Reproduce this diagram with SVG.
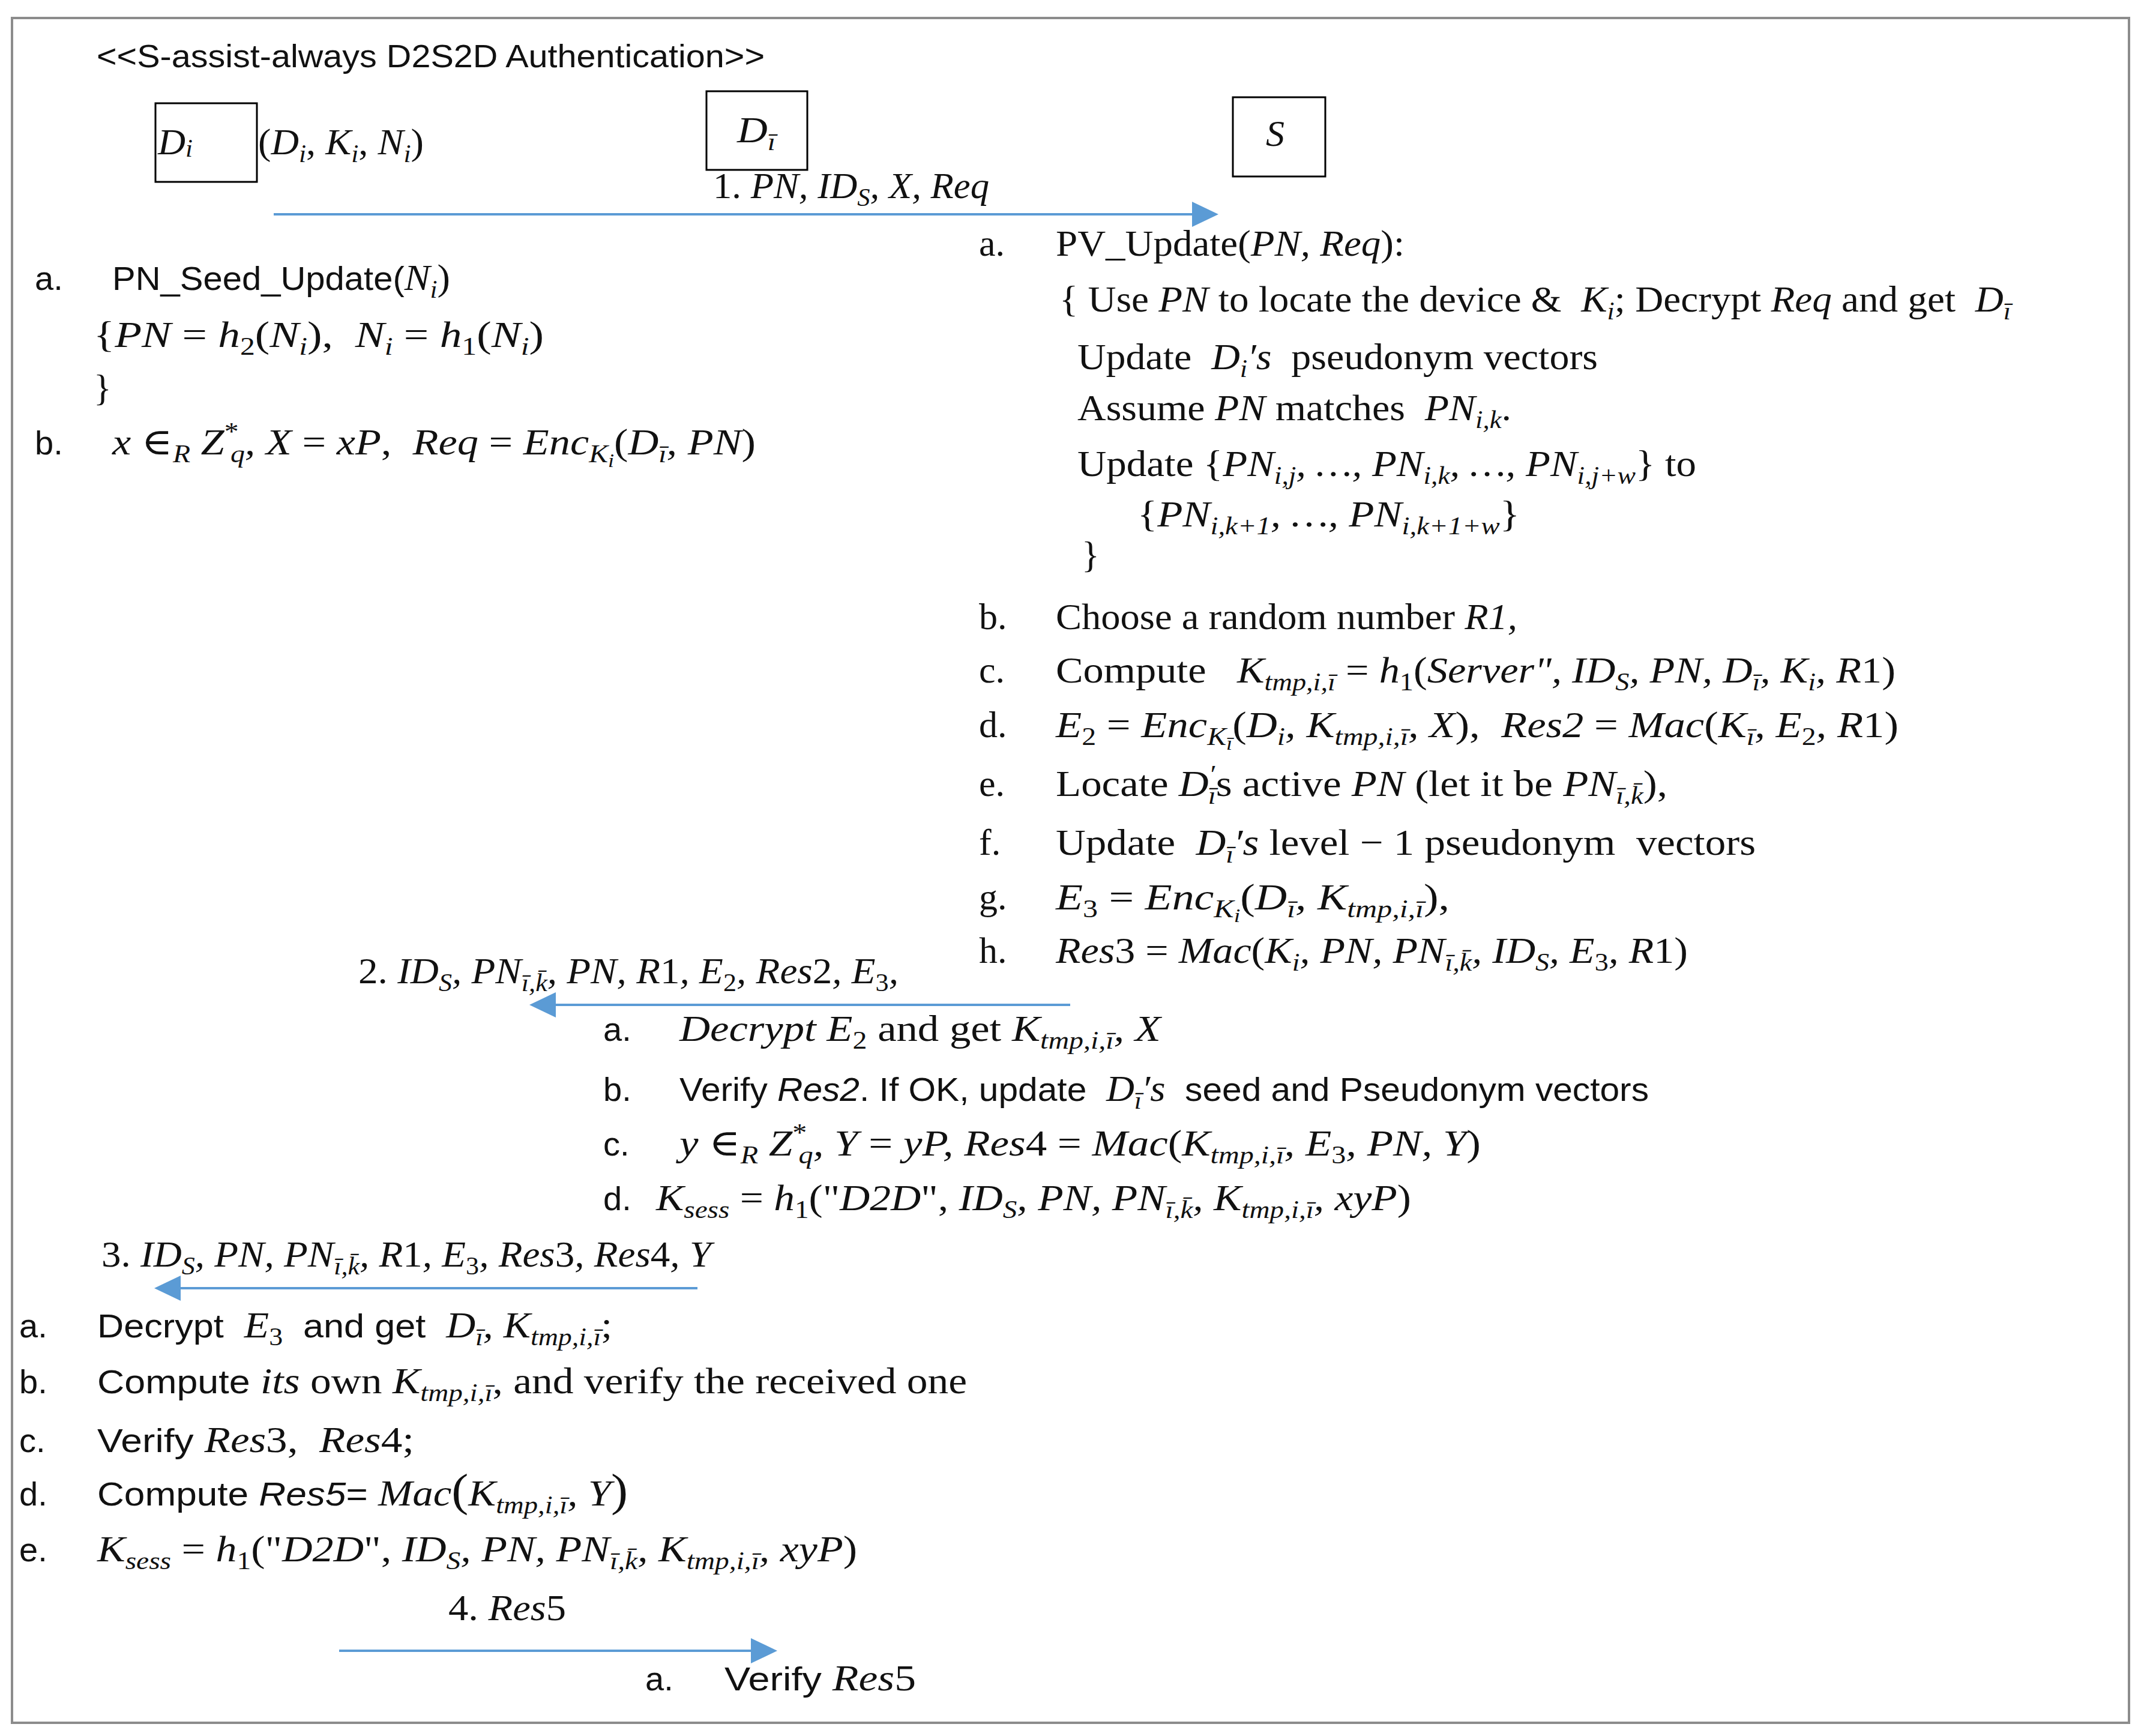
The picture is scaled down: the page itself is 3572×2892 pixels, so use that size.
<svg xmlns="http://www.w3.org/2000/svg" width="3572" height="2892" viewBox="0 0 3572 2892">
<style>
.t{font-family:"Liberation Serif","DejaVu Serif",serif;font-size:62px;fill:#111}
.c{font-family:"Liberation Sans","DejaVu Sans",sans-serif;font-size:56px;fill:#111}
.i{font-style:italic}
.n{font-style:normal}
.s{font-size:42px}
.ss{font-size:32px}
.M{font-family:"Liberation Serif","DejaVu Serif",serif;font-size:62px}
.Ms{font-family:"Liberation Serif","DejaVu Serif",serif;font-size:42px}
.box{fill:#fff;stroke:#000;stroke-width:3}
.frame{fill:none;stroke:#8c8c8c;stroke-width:4}
.arr{fill:none;stroke:#5B9BD5;stroke-width:4;marker-end:url(#ah)}
</style>
<defs>
<marker id="ah" markerUnits="userSpaceOnUse" markerWidth="46" markerHeight="46" refX="32" refY="23" orient="auto"><path d="M0,2 L44,23 L0,44 Z" fill="#5B9BD5"/></marker>
</defs>
<rect width="3572" height="2892" fill="#fff"/>
<rect class="frame" x="20" y="30" width="3527" height="2840"/>
<text class="c" x="161" y="112" style="font-size:54px" textLength="1113" lengthAdjust="spacingAndGlyphs">&lt;&lt;S-assist-always D2S2D Authentication&gt;&gt;</text>

<g id="node-Di"><rect class="box" x="259" y="172" width="169" height="131"/><text class="t i" x="263" y="257" textLength="58" lengthAdjust="spacingAndGlyphs">D<tspan class="s" dy="4">i</tspan></text></g>
<g id="node-Dibar"><rect class="box" x="1177" y="152" width="168" height="131"/><text class="t i" x="1228" y="237" textLength="64" lengthAdjust="spacingAndGlyphs">D<tspan class="s" dy="13">ī</tspan></text></g>
<g id="node-S"><rect class="box" x="2054" y="162" width="154" height="132"/><text class="t i" x="2109" y="243">S</text></g>

<g id="connectors">
<line class="arr" x1="456" y1="357" x2="2018" y2="357"/>
<line class="arr" x1="1783" y1="1674" x2="894" y2="1674"/>
<line class="arr" x1="1162" y1="2146" x2="269" y2="2146"/>
<line class="arr" x1="565" y1="2750" x2="1283" y2="2750"/>
</g>

<g id="labels">
<text class="t" x="430" y="257" textLength="276" lengthAdjust="spacingAndGlyphs">(<tspan class="i">D</tspan><tspan class="s i" dy="13">i</tspan><tspan dy="-13">, </tspan><tspan class="i">K</tspan><tspan class="s i" dy="13">i</tspan><tspan dy="-13">, </tspan><tspan class="i">N</tspan><tspan class="s i" dy="13">i</tspan><tspan dy="-13">)</tspan></text>
<text class="t i" x="1188" y="330" textLength="460" lengthAdjust="spacingAndGlyphs"><tspan class="n">1. </tspan>PN, ID<tspan class="s" dy="13">S</tspan><tspan dy="-13">, X, Req</tspan></text>

<text class="c" x="58" y="483">a.</text>
<text class="c" x="187" y="483" textLength="563" lengthAdjust="spacingAndGlyphs">PN_Seed_Update(<tspan class="M i">N</tspan><tspan class="Ms i" dy="13">i</tspan><tspan class="M" dy="-13">)</tspan></text>
<text class="t i" x="156" y="578" textLength="750" lengthAdjust="spacingAndGlyphs"><tspan class="n">{</tspan>PN <tspan class="n">= </tspan>h<tspan class="s n" dy="13">2</tspan><tspan class="n" dy="-13">(</tspan>N<tspan class="s" dy="13">i</tspan><tspan class="n" dy="-13">),&#160; </tspan>N<tspan class="s" dy="13">i</tspan><tspan class="n" dy="-13"> = </tspan>h<tspan class="s n" dy="13">1</tspan><tspan class="n" dy="-13">(</tspan>N<tspan class="s" dy="13">i</tspan><tspan class="n" dy="-13">)</tspan></text>
<text class="t" x="156" y="667">}</text>
<text class="c" x="58" y="757">b.</text>
<text class="t i" x="187" y="757" textLength="1072" lengthAdjust="spacingAndGlyphs">x <tspan class="n">∈</tspan><tspan class="s" dy="13">R</tspan><tspan dy="-13"> Z</tspan><tspan class="s n" dy="-24">*</tspan><tspan class="s" dx="-12" dy="37">q</tspan><tspan dy="-13">, X </tspan><tspan class="n">= </tspan>xP<tspan class="n">,&#160; </tspan>Req <tspan class="n">= </tspan>Enc<tspan class="s" dy="13">K</tspan><tspan class="ss" dy="8">i</tspan><tspan class="n" dy="-21">(</tspan>D<tspan class="s" dy="13">ī</tspan><tspan dy="-13">, PN</tspan><tspan class="n">)</tspan></text>

<text class="t" x="1631" y="426">a.</text>
<text class="t" x="1759" y="426" textLength="581" lengthAdjust="spacingAndGlyphs">PV_Update(<tspan class="i">PN, Req</tspan>):</text>
<text class="t" x="1765" y="519" textLength="1585" lengthAdjust="spacingAndGlyphs">{ Use <tspan class="i">PN</tspan> to locate the device &amp;&#160; <tspan class="i">K</tspan><tspan class="s i" dy="13">i</tspan><tspan dy="-13">; Decrypt </tspan><tspan class="i">Req</tspan> and get&#160; <tspan class="i">D</tspan><tspan class="s i" dy="13">ī</tspan></text>
<text class="t" x="1795" y="615" textLength="867" lengthAdjust="spacingAndGlyphs">Update&#160; <tspan class="i">D</tspan><tspan class="s i" dy="13">i</tspan><tspan class="i" dy="-13">′s</tspan>&#160; pseudonym vectors</text>
<text class="t" x="1795" y="700" textLength="723" lengthAdjust="spacingAndGlyphs">Assume <tspan class="i">PN</tspan> matches&#160; <tspan class="i">PN</tspan><tspan class="s i" dy="13">i,k</tspan><tspan dy="-13">.</tspan></text>
<text class="t i" x="1795" y="793" textLength="1031" lengthAdjust="spacingAndGlyphs"><tspan class="n">Update {</tspan>PN<tspan class="s" dy="13">i,j</tspan><tspan dy="-13">, …, PN</tspan><tspan class="s" dy="13">i,k</tspan><tspan dy="-13">, …, PN</tspan><tspan class="s" dy="13">i,j+w</tspan><tspan class="n" dy="-13">} to</tspan></text>
<text class="t i" x="1895" y="877" textLength="637" lengthAdjust="spacingAndGlyphs"><tspan class="n">{</tspan>PN<tspan class="s" dy="13">i,k+1</tspan><tspan dy="-13">, …, PN</tspan><tspan class="s" dy="13">i,k+1+w</tspan><tspan class="n" dy="-13">}</tspan></text>
<text class="t" x="1802" y="945">}</text>
<text class="t" x="1631" y="1048">b.</text>
<text class="t" x="1759" y="1048" textLength="769" lengthAdjust="spacingAndGlyphs">Choose a random number <tspan class="i">R1,</tspan></text>
<text class="t" x="1631" y="1137">c.</text>
<text class="t" x="1759" y="1137" textLength="1399" lengthAdjust="spacingAndGlyphs">Compute&#160;&#160; <tspan class="i">K</tspan><tspan class="s i" dy="13">tmp,i,ī</tspan><tspan dy="-13"> = </tspan><tspan class="i">h</tspan><tspan class="s" dy="13">1</tspan><tspan dy="-13">(</tspan><tspan class="i">Server", ID</tspan><tspan class="s i" dy="13">S</tspan><tspan class="i" dy="-13">, PN, D</tspan><tspan class="s i" dy="13">ī</tspan><tspan class="i" dy="-13">, K</tspan><tspan class="s i" dy="13">i</tspan><tspan class="i" dy="-13">, R</tspan>1)</text>
<text class="t" x="1631" y="1228">d.</text>
<text class="t i" x="1759" y="1228" textLength="1404" lengthAdjust="spacingAndGlyphs">E<tspan class="s n" dy="13">2</tspan><tspan class="n" dy="-13"> = </tspan>Enc<tspan class="s" dy="13">K</tspan><tspan class="ss" dy="8">ī</tspan><tspan class="n" dy="-21">(</tspan>D<tspan class="s" dy="13">i</tspan><tspan dy="-13">, K</tspan><tspan class="s" dy="13">tmp,i,ī</tspan><tspan dy="-13">, X</tspan><tspan class="n">),&#160; </tspan>Res2<tspan class="n"> = </tspan>Mac<tspan class="n">(</tspan>K<tspan class="s" dy="13">ī</tspan><tspan dy="-13">, E</tspan><tspan class="s n" dy="13">2</tspan><tspan dy="-13">, R</tspan><tspan class="n">1)</tspan></text>
<text class="t" x="1631" y="1326">e.</text>
<text class="t" x="1759" y="1326" textLength="1019" lengthAdjust="spacingAndGlyphs">Locate <tspan class="i">D</tspan><tspan class="s i" dy="-22">′</tspan><tspan class="s i" dx="-10" dy="35">ī</tspan><tspan dy="-13">s active </tspan><tspan class="i">PN</tspan> (let it be <tspan class="i">PN</tspan><tspan class="s i" dy="13">ī,k̄</tspan><tspan dy="-13">),</tspan></text>
<text class="t" x="1631" y="1424">f.</text>
<text class="t" x="1759" y="1424" textLength="1166" lengthAdjust="spacingAndGlyphs">Update&#160; <tspan class="i">D</tspan><tspan class="s i" dy="13">ī</tspan><tspan class="i" dy="-13">′s</tspan> level − 1 pseudonym&#160; vectors</text>
<text class="t" x="1631" y="1515">g.</text>
<text class="t i" x="1759" y="1515" textLength="656" lengthAdjust="spacingAndGlyphs">E<tspan class="s n" dy="13">3</tspan><tspan class="n" dy="-13"> = </tspan>Enc<tspan class="s" dy="13">K</tspan><tspan class="ss" dy="8">i</tspan><tspan class="n" dy="-21">(</tspan>D<tspan class="s" dy="13">ī</tspan><tspan dy="-13">, K</tspan><tspan class="s" dy="13">tmp,i,ī</tspan><tspan class="n" dy="-13">),</tspan></text>
<text class="t" x="1631" y="1604">h.</text>
<text class="t i" x="1759" y="1604" textLength="1053" lengthAdjust="spacingAndGlyphs">Res<tspan class="n">3 = </tspan>Mac<tspan class="n">(</tspan>K<tspan class="s" dy="13">i</tspan><tspan dy="-13">, PN, PN</tspan><tspan class="s" dy="13">ī,k̄</tspan><tspan dy="-13">, ID</tspan><tspan class="s" dy="13">S</tspan><tspan dy="-13">, E</tspan><tspan class="s n" dy="13">3</tspan><tspan dy="-13">, R</tspan><tspan class="n">1)</tspan></text>

<text class="t i" x="597" y="1638" textLength="900" lengthAdjust="spacingAndGlyphs"><tspan class="n">2. </tspan>ID<tspan class="s" dy="13">S</tspan><tspan dy="-13">, PN</tspan><tspan class="s" dy="13">ī,k̄</tspan><tspan dy="-13">, PN, R</tspan><tspan class="n">1</tspan>, E<tspan class="s n" dy="13">2</tspan><tspan dy="-13">, Res</tspan><tspan class="n">2</tspan>, E<tspan class="s n" dy="13">3</tspan><tspan dy="-13">,</tspan></text>

<text class="c" x="1005" y="1734">a.</text>
<text class="t i" x="1132" y="1734" textLength="802" lengthAdjust="spacingAndGlyphs">Decrypt E<tspan class="s n" dy="13">2</tspan><tspan class="n" dy="-13"> and get </tspan>K<tspan class="s" dy="13">tmp,i,ī</tspan><tspan dy="-13">, X</tspan></text>
<text class="c" x="1005" y="1834">b.</text>
<text class="c" x="1132" y="1834" textLength="1615" lengthAdjust="spacingAndGlyphs">Verify <tspan class="i">Res2</tspan>. If OK, update&#160; <tspan class="M i">D</tspan><tspan class="Ms i" dy="13">ī</tspan><tspan class="M i" dy="-13">′s</tspan>&#160; seed and Pseudonym vectors</text>
<text class="c" x="1005" y="1925">c.</text>
<text class="t i" x="1132" y="1925" textLength="1335" lengthAdjust="spacingAndGlyphs">y <tspan class="n">∈</tspan><tspan class="s" dy="13">R</tspan><tspan dy="-13"> Z</tspan><tspan class="s n" dy="-24">*</tspan><tspan class="s" dx="-12" dy="37">q</tspan><tspan dy="-13">, Y </tspan><tspan class="n">= </tspan>yP, Res<tspan class="n">4 = </tspan>Mac<tspan class="n">(</tspan>K<tspan class="s" dy="13">tmp,i,ī</tspan><tspan dy="-13">, E</tspan><tspan class="s n" dy="13">3</tspan><tspan dy="-13">, PN, Y</tspan><tspan class="n">)</tspan></text>
<text class="c" x="1005" y="2016">d.</text>
<text class="t i" x="1093" y="2016" textLength="1258" lengthAdjust="spacingAndGlyphs">K<tspan class="s" dy="13">sess</tspan><tspan class="n" dy="-13"> = </tspan>h<tspan class="s n" dy="13">1</tspan><tspan class="n" dy="-13">("</tspan>D2D<tspan class="n">", </tspan>ID<tspan class="s" dy="13">S</tspan><tspan dy="-13">, PN, PN</tspan><tspan class="s" dy="13">ī,k̄</tspan><tspan dy="-13">, K</tspan><tspan class="s" dy="13">tmp,i,ī</tspan><tspan dy="-13">, xyP</tspan><tspan class="n">)</tspan></text>

<text class="t i" x="169" y="2110" textLength="1016" lengthAdjust="spacingAndGlyphs"><tspan class="n">3. </tspan>ID<tspan class="s" dy="13">S</tspan><tspan dy="-13">, PN, PN</tspan><tspan class="s" dy="13">ī,k̄</tspan><tspan dy="-13">, R</tspan><tspan class="n">1</tspan>, E<tspan class="s n" dy="13">3</tspan><tspan dy="-13">, Res</tspan><tspan class="n">3</tspan>, Res<tspan class="n">4</tspan>, Y</text>

<text class="c" x="32" y="2228">a.</text>
<text class="c" x="162" y="2228" textLength="858" lengthAdjust="spacingAndGlyphs">Decrypt&#160; <tspan class="M i">E</tspan><tspan class="Ms" dy="13">3</tspan><tspan dy="-13">&#160; and get&#160; </tspan><tspan class="M i">D</tspan><tspan class="Ms i" dy="13">ī</tspan><tspan class="M i" dy="-13">, K</tspan><tspan class="Ms i" dy="13">tmp,i,ī</tspan><tspan class="M" dy="-13">;</tspan></text>
<text class="c" x="32" y="2321">b.</text>
<text class="c" x="162" y="2321" textLength="1449" lengthAdjust="spacingAndGlyphs">Compute <tspan class="M i">its</tspan><tspan class="M"> own </tspan><tspan class="M i">K</tspan><tspan class="Ms i" dy="13">tmp,i,ī</tspan><tspan class="M" dy="-13">, and verify the received one</tspan></text>
<text class="c" x="32" y="2419">c.</text>
<text class="c" x="162" y="2419" textLength="528" lengthAdjust="spacingAndGlyphs">Verify <tspan class="M i">Res</tspan><tspan class="M">3,&#160; </tspan><tspan class="M i">Res</tspan><tspan class="M">4;</tspan></text>
<text class="c" x="32" y="2508">d.</text>
<text class="c" x="162" y="2508" textLength="884" lengthAdjust="spacingAndGlyphs">Compute <tspan class="i">Res5</tspan>= <tspan class="M i">Mac</tspan><tspan class="M" style="font-size:76px">(</tspan><tspan class="M i">K</tspan><tspan class="Ms i" dy="13">tmp,i,ī</tspan><tspan class="M i" dy="-13">, Y</tspan><tspan class="M" style="font-size:76px">)</tspan></text>
<text class="c" x="32" y="2601">e.</text>
<text class="t i" x="162" y="2601" textLength="1266" lengthAdjust="spacingAndGlyphs">K<tspan class="s" dy="13">sess</tspan><tspan class="n" dy="-13"> = </tspan>h<tspan class="s n" dy="13">1</tspan><tspan class="n" dy="-13">("</tspan>D2D<tspan class="n">", </tspan>ID<tspan class="s" dy="13">S</tspan><tspan dy="-13">, PN, PN</tspan><tspan class="s" dy="13">ī,k̄</tspan><tspan dy="-13">, K</tspan><tspan class="s" dy="13">tmp,i,ī</tspan><tspan dy="-13">, xyP</tspan><tspan class="n">)</tspan></text>

<text class="t i" x="747" y="2699" textLength="196" lengthAdjust="spacingAndGlyphs"><tspan class="n">4. </tspan>Res<tspan class="n">5</tspan></text>
<text class="c" x="1075" y="2816">a.</text>
<text class="c" x="1207" y="2816" textLength="319" lengthAdjust="spacingAndGlyphs">Verify <tspan class="M i">Res</tspan><tspan class="M">5</tspan></text>
</g>
</svg>
